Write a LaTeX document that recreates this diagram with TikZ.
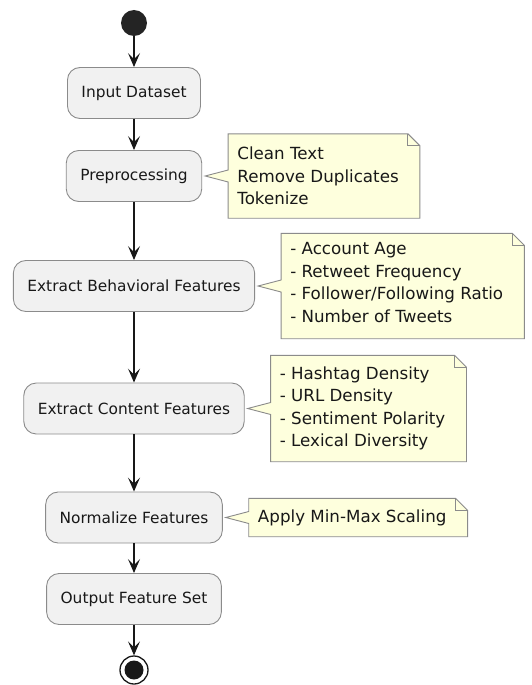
\documentclass[tikz,border=0pt]{standalone}
\usepackage{fontspec}
\setmainfont{DejaVu Sans}
\usepackage{xcolor}
\usetikzlibrary{positioning,arrows.meta,backgrounds}

\definecolor{actfill}{HTML}{F1F1F1}
\definecolor{notefill}{HTML}{FEFFDD}
\definecolor{linecol}{HTML}{181818}

\begin{document}
\begin{tikzpicture}[x=1pt, y=-1pt,
	act/.style={draw=linecol!50, fill=actfill, rounded corners=12.5pt, line width=0.9pt, minimum height=51pt, inner xsep=14pt, text=linecol, font=\fontsize{15.4}{18}\selectfont},
	notetext/.style={align=left, inner xsep=9pt, inner ysep=0pt, text=linecol, font=\fontsize{16.7}{22.5}\selectfont},
	flow/.style={linecol, line width=1.2pt, -{Stealth[length=14pt, width=12pt, inset=6pt]}},
	startnode/.style={circle, fill=linecol!95, minimum size=26pt, inner sep=0pt},
	stopnode/.style={circle, draw=linecol, line width=1.3pt, minimum size=28pt, inner sep=0pt,
		path picture={\fill[linecol] (path picture bounding box.center) circle (9.5pt);}}]
	
		\newcommand{\fold}{12pt}
		\newcommand{\wedgew}{6pt}
		\newcommand{\gap}{26pt}
		\useasboundingbox (0,0) rectangle (531,685);
		
		% note outline with folded corner and wedge pointing at the activity
		\newcommand{\drawnote}[2]{
			\begin{scope}[on background layer]
			\filldraw[draw=linecol!50, fill=notefill, line width=0.9pt, line join=miter]
				(#1.north west) -- (#1.north east) -- ([xshift=\fold, yshift=-\fold]#1.north east)
				-- ([xshift=\fold]#1.south east) -- (#1.south west) -- ([yshift=-\wedgew]#1.west)
				-- ([xshift=3pt]#2.east) -- ([yshift=\wedgew]#1.west) -- cycle;
			\draw[linecol!50, line width=0.9pt] (#1.north east) -- ([yshift=-\fold]#1.north east) -- ([xshift=\fold, yshift=-\fold]#1.north east);
			\end{scope}
		}
	
		\node[startnode] (start) at (134,23) {};
		\node[act] (input) at (134,93) {Input Dataset};
		\node[act] (prep) at (134,176) {Preprocessing};
		\node[act] (behav) at (134,286) {Extract Behavioral Features};
		\node[act] (content) at (134,408.5) {Extract Content Features};
		\node[act] (norm) at (134,517.5) {Normalize Features};
		\node[act] (output) at (134,599) {Output Feature Set};
		\node[stopnode] (stop) at (134,670) {};
	
		\node[notetext, minimum height=84pt, right=\gap of prep] (prepnote) {Clean Text\\Remove Duplicates\\Tokenize};
		\node[notetext, minimum height=105pt, right=\gap of behav] (behavnote) {- Account Age\\- Retweet Frequency\\- Follower/Following Ratio\\- Number of Tweets\strut};
		\node[notetext, minimum height=106pt, right=\gap of content] (contentnote) {- Hashtag Density\\- URL Density\\- Sentiment Polarity\\- Lexical Diversity};
		\node[notetext, minimum height=38pt, right=\gap of norm] (normnote) {Apply Min-Max Scaling};
		
		\drawnote{prepnote}{prep}
		\drawnote{behavnote}{behav}
		\drawnote{contentnote}{content}
		\drawnote{normnote}{norm}
	
		\draw[flow] (start) -- (input);
		\draw[flow] (input) -- (prep);
		\draw[flow] (prep) -- (behav);
		\draw[flow] (behav) -- (content);
		\draw[flow] (content) -- (norm);
		\draw[flow] (norm) -- (output);
		\draw[flow] (output) -- (stop);
		%\draw[flow] (stop) -- ++(0,20);
	\end{tikzpicture}
\end{document}
